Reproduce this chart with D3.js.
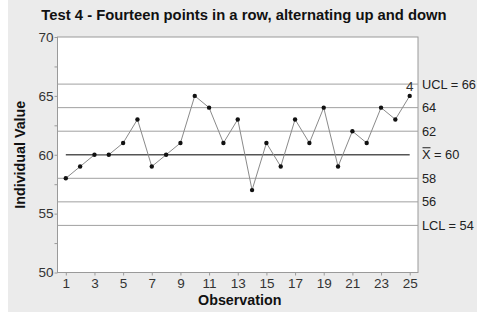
<!DOCTYPE html>
<html>
<head>
<meta charset="utf-8">
<script src="https://cdn.jsdelivr.net/npm/d3@7"></script>
<style>
  body { margin: 0; background: #fff; }
  svg { display: block; font-family: "Liberation Sans", Arial, sans-serif; }
</style>
</head>
<body>
<svg id="chart" width="477" height="318"></svg>
<script>
// Datos
const observaciones = d3.range(1, 26);
const valores = [58, 59, 60, 60, 61, 63, 59, 60, 61, 65, 64, 61, 63, 57, 61, 59, 63, 61, 64, 59, 62, 61, 64, 63, 65];
const lineasRef = [66, 64, 62, 58, 56, 54];
const etiquetasDer = [
  { v: 66, t: "UCL = 66" },
  { v: 64, t: "64" },
  { v: 62, t: "62" },
  { v: 60, t: "X = 60", barra: true },
  { v: 58, t: "58" },
  { v: 56, t: "56" },
  { v: 54, t: "LCL = 54" }
];
const ticksY = [50, 55, 60, 65, 70];
const ticksYMenores = [52.5, 57.5, 62.5, 67.5];
const ticksX = [1, 3, 5, 7, 9, 11, 13, 15, 17, 19, 21, 23, 25];

const svg = d3.select("#chart");
const margin = { left: 57.5, top: 37, right: 418, bottom: 272.5 };

// Fondo gris
svg.append("rect")
  .attr("x", 8).attr("y", 0)
  .attr("width", 469).attr("height", 312)
  .attr("fill", "#ebebeb");

const x = d3.scaleLinear().domain([0.42, 25.58]).range([margin.left, margin.right]);
const y = d3.scaleLinear().domain([50, 70]).range([margin.bottom, margin.top]);

// Panel
svg.append("rect")
  .attr("x", margin.left).attr("y", margin.top)
  .attr("width", margin.right - margin.left)
  .attr("height", margin.bottom - margin.top)
  .attr("fill", "#fff")
  .attr("stroke", "#9a9a9a")
  .attr("stroke-width", 1);

// Líneas de referencia
svg.selectAll("line.ref")
  .data(lineasRef)
  .join("line")
  .attr("class", "ref")
  .attr("x1", margin.left).attr("x2", margin.right)
  .attr("y1", d => y(d)).attr("y2", d => y(d))
  .attr("stroke", "#a0a0a0")
  .attr("stroke-width", 1);

// Línea central
svg.append("line")
  .attr("x1", x(1)).attr("x2", x(25))
  .attr("y1", y(60)).attr("y2", y(60))
  .attr("stroke", "#555")
  .attr("stroke-width", 1.6);

// Ejes
const ejeY = svg.append("g")
  .attr("transform", `translate(${margin.left},0)`)
  .call(d3.axisLeft(y).tickValues(ticksY).tickSize(3).tickFormat(d3.format("d")));
const ejeYMenor = svg.append("g")
  .attr("transform", `translate(${margin.left},0)`)
  .call(d3.axisLeft(y).tickValues(ticksYMenores).tickSize(3).tickFormat(""));
const ejeX = svg.append("g")
  .attr("transform", `translate(0,${margin.bottom})`)
  .call(d3.axisBottom(x).tickValues(ticksX).tickSize(3).tickFormat(d3.format("d")));

[ejeY, ejeYMenor, ejeX].forEach(g => {
  g.select(".domain").remove();
  g.selectAll(".tick line").attr("stroke", "#9a9a9a");
  g.selectAll(".tick text")
    .attr("fill", "#333")
    .style("font-size", "13.5px")
    .style("font-family", "Liberation Sans, Arial, sans-serif");
});
ejeY.selectAll(".tick text").attr("x", -4);
ejeX.selectAll(".tick text").attr("y", 6);

// Serie
svg.append("path")
  .datum(valores)
  .attr("fill", "none")
  .attr("stroke", "#8a8a8a")
  .attr("stroke-width", 1)
  .attr("d", d3.line().x((d, i) => x(observaciones[i])).y(d => y(d)));

svg.selectAll("circle.pt")
  .data(valores)
  .join("circle")
  .attr("class", "pt")
  .attr("cx", (d, i) => x(observaciones[i]))
  .attr("cy", d => y(d))
  .attr("r", 2.2)
  .attr("fill", "#111");

// Marca de la prueba 4 sobre el último punto
svg.append("text")
  .attr("x", x(25))
  .attr("y", y(valores[24]) - 5)
  .attr("text-anchor", "middle")
  .attr("fill", "#333")
  .style("font-size", "13.5px")
  .text("4");

// Etiquetas de la derecha
svg.selectAll("text.der")
  .data(etiquetasDer)
  .join("text")
  .attr("class", "der")
  .attr("x", margin.right + 4)
  .attr("y", d => y(d.v))
  .attr("dy", "0.35em")
  .attr("fill", "#222")
  .style("font-size", "12.8px")
  .text(d => d.t);

// Barra sobre la X
const xb = etiquetasDer.find(d => d.barra);
svg.append("line")
  .attr("x1", margin.right + 4.5).attr("x2", margin.right + 12.5)
  .attr("y1", y(xb.v) - 7).attr("y2", y(xb.v) - 7)
  .attr("stroke", "#222").attr("stroke-width", 1);

// Títulos
svg.append("text")
  .attr("x", 244).attr("y", 20)
  .attr("text-anchor", "middle")
  .attr("fill", "#111")
  .style("font-size", "14.8px")
  .style("font-weight", "bold")
  .text("Test 4 - Fourteen points in a row, alternating up and down");

svg.append("text")
  .attr("x", (x(1) + x(25)) / 2 + 2).attr("y", 305)
  .attr("text-anchor", "middle")
  .attr("fill", "#111")
  .style("font-size", "14.3px")
  .style("font-weight", "bold")
  .text("Observation");

svg.append("text")
  .attr("transform", `translate(25,${(margin.top + margin.bottom) / 2}) rotate(-90)`)
  .attr("text-anchor", "middle")
  .attr("fill", "#111")
  .style("font-size", "14.3px")
  .style("font-weight", "bold")
  .text("Individual Value");
</script>
</body>
</html>
